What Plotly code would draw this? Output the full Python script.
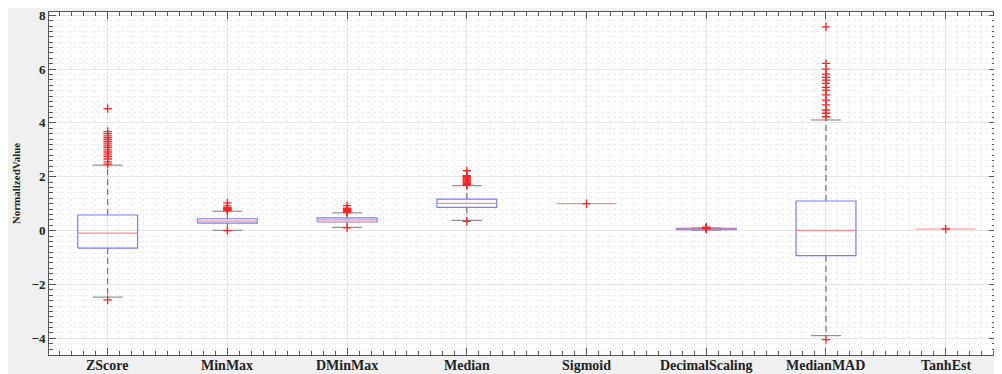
import plotly.graph_objects as go

categories = ["ZScore", "MinMax", "DMinMax", "Median", "Sigmoid", "DecimalScaling", "MedianMAD", "TanhEst"]
q1 = [-0.65, 0.28, 0.32, 0.86, 1.0, 0.04, -0.93, 0.06]
median = [-0.09, 0.35, 0.40, 1.01, 1.0, 0.06, 0.01, 0.06]
q3 = [0.58, 0.44, 0.47, 1.17, 1.0, 0.08, 1.10, 0.06]
lower_whisker = [-2.47, 0.01, 0.12, 0.38, 1.0, 0.02, -3.90, 0.06]
upper_whisker = [2.43, 0.72, 0.66, 1.67, 1.0, 0.10, 4.11, 0.06]
outliers = [
    [4.53, 3.68, 3.60, 3.52, 3.45, 3.38, 3.30, 3.22, 3.15, 3.08, 3.00, 2.92, 2.84, 2.76, 2.66, 2.55, 2.47, -2.57],
    [1.03, 0.92, 0.85, 0.83, 0.81, 0.79, 0.77, 0.75, 0.0],
    [0.93, 0.83, 0.80, 0.77, 0.74, 0.71, 0.68, 0.10],
    [2.23, 2.04, 2.00, 1.96, 1.92, 1.88, 1.84, 1.80, 1.76, 1.72, 1.68, 0.34],
    [1.0],
    [0.13, 0.11, 0.10, 0.09, 0.08, 0.07],
    [7.57, 6.21, 6.00, 5.81, 5.69, 5.59, 5.47, 5.32, 5.22, 5.04, 4.85, 4.67, 4.48, 4.36, 4.23, -4.05],
    [0.06],
]
y_ticks = [-4, -2, 0, 2, 4, 6, 8]

BOX_HALF = 0.25
CAP_HALF = 0.125
serif = "Liberation Serif"

fig = go.Figure()
for i, name in enumerate(categories):
    x = i + 1
    collapsed = q1[i] == q3[i] and lower_whisker[i] == upper_whisker[i]
    if not collapsed:
        fig.add_trace(go.Scatter(x=[x, x, None, x, x], y=[q3[i], upper_whisker[i], None, q1[i], lower_whisker[i]],
                                 mode="lines", line=dict(color="#707070", width=1.2, dash="6px,4px"),
                                 hoverinfo="skip", showlegend=False))
        fig.add_trace(go.Scatter(x=[x - CAP_HALF, x + CAP_HALF, None, x - CAP_HALF, x + CAP_HALF],
                                 y=[upper_whisker[i], upper_whisker[i], None, lower_whisker[i], lower_whisker[i]],
                                 mode="lines", line=dict(color="#909090", width=1.2),
                                 hoverinfo="skip", showlegend=False))
        fig.add_trace(go.Scatter(x=[x - BOX_HALF, x + BOX_HALF, x + BOX_HALF, x - BOX_HALF, x - BOX_HALF],
                                 y=[q1[i], q1[i], q3[i], q3[i], q1[i]],
                                 mode="lines", line=dict(color="#7a7aff", width=1.2),
                                 hoverinfo="skip", showlegend=False))
    fig.add_trace(go.Scatter(x=[x - BOX_HALF, x + BOX_HALF], y=[median[i], median[i]],
                             mode="lines", line=dict(color="#ff8a8a", width=1.2),
                             hoverinfo="skip", showlegend=False))
    fig.add_trace(go.Scatter(x=[x] * len(outliers[i]), y=outliers[i], mode="markers",
                             marker=dict(symbol="cross-thin", size=6, line=dict(color="#ff2020", width=1.3)),
                             hoverinfo="skip", showlegend=False))

# category labels placed just under the axis
for i, name in enumerate(categories):
    fig.add_annotation(x=i + 1, y=0, xref="x", yref="paper", text=name, showarrow=False,
                       yanchor="top", yshift=-1,
                       font=dict(family=serif, size=14, color="#222", weight="bold"))

fig.update_layout(
    width=994, height=366,
    margin=dict(l=41, r=6, t=4, b=19),
    paper_bgcolor="#f0f0f0",
    plot_bgcolor="white",
    showlegend=False,
    xaxis=dict(
        range=[0.51, 8.42], tickmode="array", tickvals=list(range(1, len(categories) + 1)),
        showticklabels=False, automargin=False,
        ticks="inside", ticklen=7, tickcolor="#555",
        showline=True, linecolor="#555", linewidth=1, mirror="ticks",
        showgrid=True, gridcolor="#e4e4e4", gridwidth=1, zeroline=False,
        minor=dict(tick0=0, dtick=0.1, ticks="inside", ticklen=4, tickcolor="#555",
                   showgrid=True, gridcolor="#ececec", griddash="dot", gridwidth=1),
    ),
    yaxis=dict(
        range=[-4.62, 8.12], tickmode="array", tickvals=y_ticks, automargin=False,
        ticklabeloverflow="allow",
        ticks="inside", ticklen=7, tickcolor="#555",
        showline=True, linecolor="#555", linewidth=1, mirror="ticks",
        showgrid=True, gridcolor="#e4e4e4", gridwidth=1, zeroline=False,
        tickfont=dict(family=serif, size=13, color="#222", weight="bold"),
        title=dict(text="NormalizedValue", font=dict(family=serif, size=11, color="#222", weight="bold"), standoff=8),
        minor=dict(tick0=0, dtick=0.2, ticks="inside", ticklen=4, tickcolor="#555",
                   showgrid=True, gridcolor="#ececec", griddash="dot", gridwidth=1),
    ),
)

fig.write_html("out.html")
